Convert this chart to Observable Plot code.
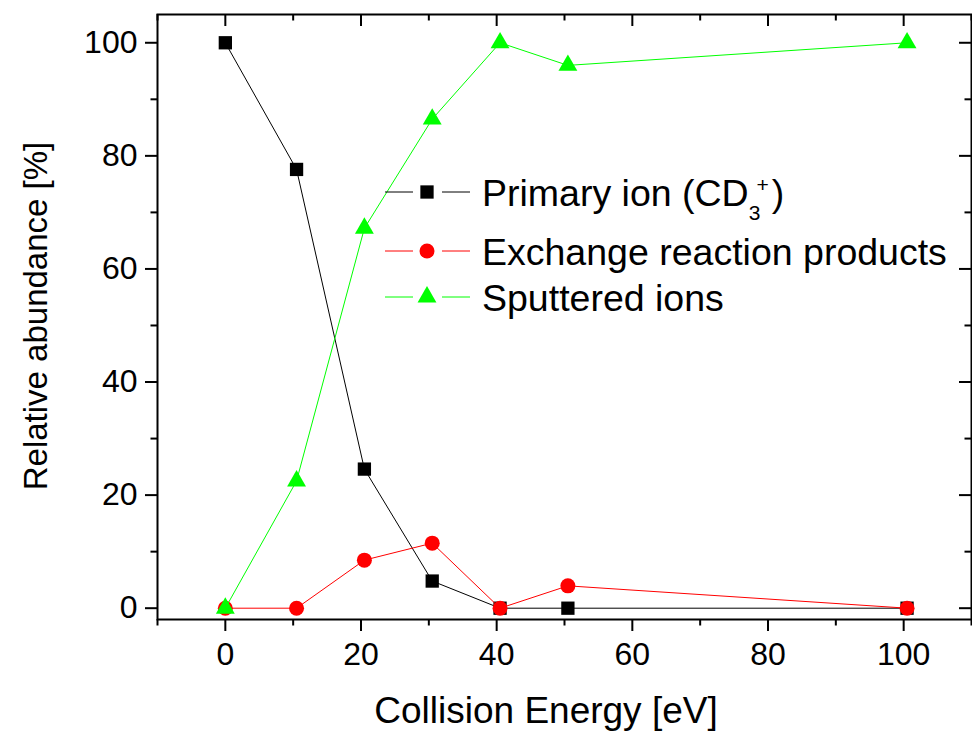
<!DOCTYPE html>
<html>
<head>
<meta charset="utf-8">
<script src="https://cdn.jsdelivr.net/npm/d3@7"></script>
<script src="https://cdn.jsdelivr.net/npm/@observablehq/plot@0.6"></script>
<style>
  html, body { margin: 0; padding: 0; background: #fff; }
  #chart { width: 972px; height: 733px; }
  svg { display: block; }
</style>
</head>
<body>
<div id="chart"></div>
<script>
// ---- data ----
const energy    = [0, 10.5, 20.5, 30.5, 40.5, 50.5, 100.5];
const primary   = [100, 77.6, 24.6, 4.8, 0, 0, 0];
const exchange  = [0, 0, 8.5, 11.5, 0, 3.95, 0];
const sputtered = [0, 22.5, 67.2, 86.5, 100, 96, 100];

const xMajor = [0, 20, 40, 60, 80, 100];
const xMinor = [-10, 10, 30, 50, 70, 90, 110];
const yMajor = [0, 20, 40, 60, 80, 100];
const yMinor = [10, 30, 50, 70, 90];

const seriesNames  = ["Primary ion (CD", "Exchange reaction products", "Sputtered ions"];
const seriesColors = ["#000000", "#ff0000", "#00ff00"];
const seriesSymbols = ["square", "circle", "triangle"];
const xTitle = "Collision Energy [eV]";
const yTitle = "Relative abundance [%]";

const rows = energy.map((e, i) => ({e, primary: primary[i], exchange: exchange[i], sputtered: sputtered[i]}));

const W = 972, H = 733, mL = 157, mR = 1, mT = 14, mB = 114;
const frameW = W - mL - mR, frameH = H - mT - mB;
const FONT = "'Liberation Sans', Arial, Helvetica, sans-serif";

const seriesKeys = ["primary", "exchange", "sputtered"];
const marks = [
  Plot.axisX({ticks: xMajor, tickSize: 12, tickPadding: 11, fontSize: 32, label: null, strokeWidth: 2, tickFormat: d => String(d)}),
  Plot.axisX({ticks: xMinor, tickSize: 6.5, label: null, strokeWidth: 2, tickFormat: () => ""}),
  Plot.axisY({ticks: yMajor, tickSize: 12, tickPadding: 8, fontSize: 32, label: null, strokeWidth: 2, tickFormat: d => String(d)}),
  Plot.axisY({ticks: yMinor, tickSize: 6.5, label: null, strokeWidth: 2, tickFormat: () => ""}),
  // inward ticks on top and right
  Plot.tickX(xMajor, {x: d => d, stroke: "black", strokeWidth: 2, insetBottom: frameH - 12}),
  Plot.tickX(xMinor, {x: d => d, stroke: "black", strokeWidth: 2, insetBottom: frameH - 6.5}),
  Plot.tickY(yMajor, {y: d => d, stroke: "black", strokeWidth: 2, insetLeft: frameW - 12}),
  Plot.tickY(yMinor, {y: d => d, stroke: "black", strokeWidth: 2, insetLeft: frameW - 6.5}),
];
seriesKeys.forEach((k, i) => {
  marks.push(Plot.line(rows, {x: "e", y: k, stroke: seriesColors[i], strokeWidth: 1}));
  marks.push(Plot.dot(rows, {x: "e", y: k, symbol: seriesSymbols[i], r: seriesSymbols[i] === "triangle" ? 7 : 7.5, fill: seriesColors[i], stroke: "none"}));
});
marks.push(Plot.frame({stroke: "black", strokeWidth: 2}));

const chart = Plot.plot({
  width: W, height: H,
  marginLeft: mL, marginRight: mR, marginTop: mT, marginBottom: mB,
  style: {fontFamily: FONT, color: "black", background: "white", overflow: "visible"},
  x: {domain: [-10, 110]},
  y: {domain: [-2, 105]},
  marks
});
document.getElementById("chart").appendChild(chart);

// ---- axis titles and legend (added as real SVG text) ----
const svg = d3.select(chart);
svg.append("text")
  .attr("x", 546).attr("y", 723)
  .attr("text-anchor", "middle")
  .attr("font-family", FONT).attr("font-size", 37).attr("fill", "black")
  .text(xTitle);
svg.append("text")
  .attr("transform", "translate(47,316) rotate(-90)")
  .attr("text-anchor", "middle")
  .attr("font-family", FONT).attr("font-size", 33).attr("fill", "black")
  .text(yTitle);

const legendY = [192, 251, 297];
const symMap = {square: d3.symbolSquare, circle: d3.symbolCircle, triangle: d3.symbolTriangle};
const lg = svg.append("g").attr("text-anchor", "start");
seriesNames.forEach((name, i) => {
  const y = legendY[i];
  lg.append("line").attr("x1", 385).attr("x2", 413).attr("y1", y).attr("y2", y).attr("stroke", seriesColors[i]).attr("stroke-width", 1);
  lg.append("line").attr("x1", 442).attr("x2", 470).attr("y1", y).attr("y2", y).attr("stroke", seriesColors[i]).attr("stroke-width", 1);
  const r = seriesSymbols[i] === "triangle" ? 7 : 7.5;
  lg.append("path")
    .attr("transform", `translate(427,${y})`)
    .attr("d", d3.symbol(symMap[seriesSymbols[i]], Math.PI * r * r)())
    .attr("fill", seriesColors[i]);
  const t = lg.append("text")
    .attr("x", 482).attr("y", y + 14)
    .attr("text-anchor", "start")
    .attr("font-family", FONT).attr("font-size", 37.5).attr("fill", "black")
    .text(name);
  if (i === 0) {
    t.append("tspan").attr("font-size", 21).attr("dy", 14).text("3");
    t.append("tspan").attr("font-size", 21).attr("dx", -4).attr("dy", -28).text("+");
    t.append("tspan").attr("dx", 3).attr("dy", 14).text(")");
  }
});
</script>
</body>
</html>
